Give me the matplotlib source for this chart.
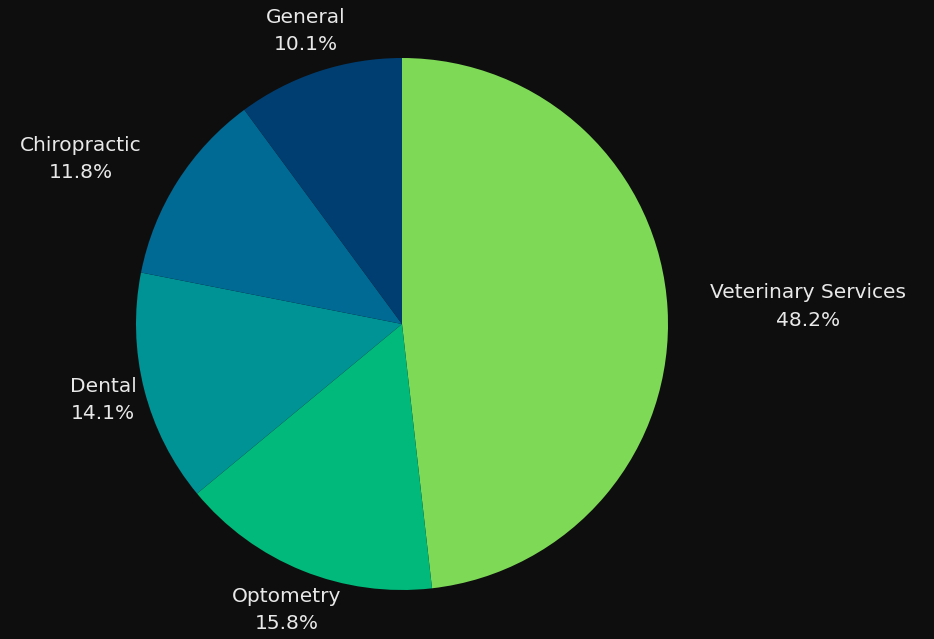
import numpy as np
import matplotlib
matplotlib.use("Agg")
import matplotlib.pyplot as plt

categories = ["Veterinary Services", "Optometry", "Dental", "Chiropractic", "General"]
shares = [48.2, 15.8, 14.1, 11.8, 10.1]
colors = ["#7ED957", "#00B97B", "#009396", "#006994", "#003E71"]
label_align = ["left", "center", "center", "right", "center"]

bg = "#0e0e0e"
fig = plt.figure(figsize=(9.34, 6.39), dpi=100, facecolor=bg)
ax = fig.add_axes([0, 0, 1, 1])
ax.set_facecolor(bg)

wedges, _ = ax.pie(shares, colors=colors, startangle=90, counterclock=False,
                   radius=1.0, wedgeprops=dict(linewidth=0))

label_r = 1.16
for w, name, val, ha in zip(wedges, categories, shares, label_align):
    mid = np.deg2rad((w.theta1 + w.theta2) / 2)
    x, y = label_r * np.cos(mid), label_r * np.sin(mid)
    ax.text(x, y, f"{name}\n{val:.1f}%", ha=ha, va="center", color="#e8e8e8",
            fontsize=14.5, family="DejaVu Sans", linespacing=1.55, multialignment="center")

ax.set_xlim(-402 / 266, (934 - 402) / 266)
ax.set_ylim(-315 / 266, 324 / 266)
ax.set_aspect("auto")
ax.axis("off")

fig.savefig("out.png", dpi=100, facecolor=bg)
